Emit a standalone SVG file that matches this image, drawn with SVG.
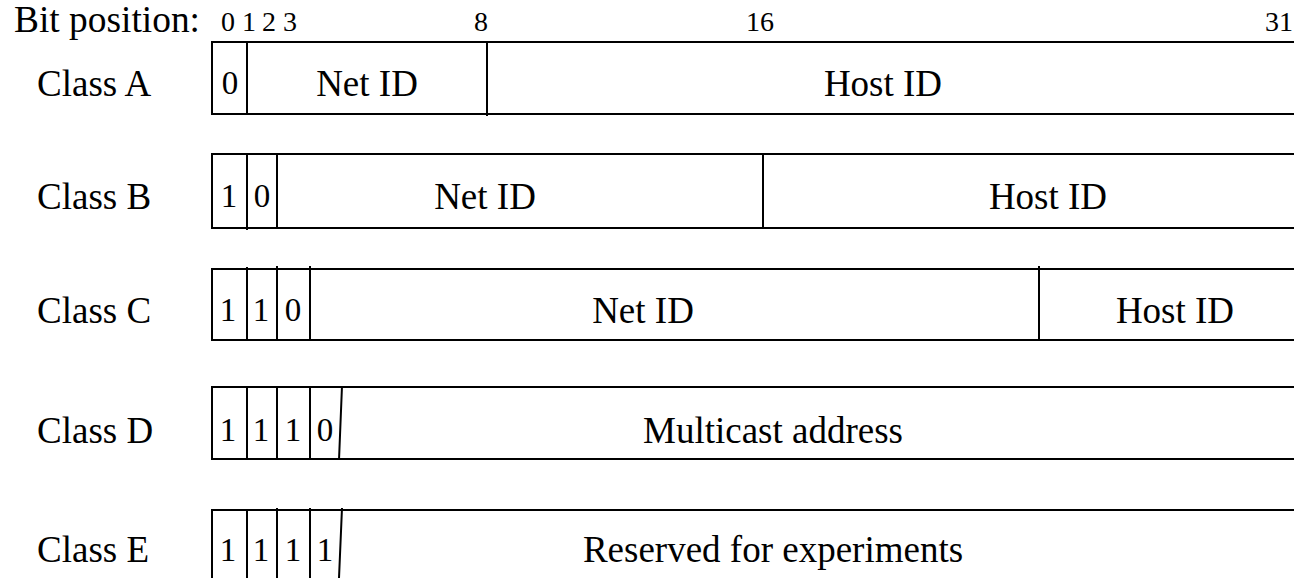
<svg xmlns="http://www.w3.org/2000/svg" width="1294" height="578" viewBox="0 0 1294 578">
<style>
  .t{font-family:"Liberation Serif","Times New Roman",serif;fill:#000}
  .lbl{font-size:37px}
  .big{font-size:37px;text-anchor:middle}
  .bit{font-size:33px;text-anchor:middle}
  .pos{font-size:28px;text-anchor:middle}
  .ln{stroke:#000;stroke-width:2;fill:none}
</style>
<rect width="1294" height="578" fill="#fff"/>
<g id="header">
  <text class="t lbl" x="14" y="32" textLength="186" lengthAdjust="spacingAndGlyphs">Bit position:</text>
  <text class="t pos" x="228" y="31">0</text>
  <text class="t pos" x="249" y="31">1</text>
  <text class="t pos" x="269" y="31">2</text>
  <text class="t pos" x="290" y="31">3</text>
  <text class="t pos" x="481" y="31">8</text>
  <text class="t pos" x="760" y="31">16</text>
  <text class="t pos" x="1279" y="31">31</text>
</g>
<g id="classA">
  <text class="t lbl" x="37" y="96">Class A</text>
  <path class="ln" d="M1294 42H212V114H1294M247 42V114M487 42V116"/>
  <text class="t bit" x="230" y="94">0</text>
  <text class="t big" x="367" y="96">Net ID</text>
  <text class="t big" x="883" y="96">Host ID</text>
</g>
<g id="classB">
  <text class="t lbl" x="37" y="209">Class B</text>
  <path class="ln" d="M1294 154H212V228H1294M247 154V230M277 154V228M763 154V228"/>
  <text class="t bit" x="229" y="207">1</text>
  <text class="t bit" x="262" y="207">0</text>
  <text class="t big" x="485" y="209">Net ID</text>
  <text class="t big" x="1048" y="209">Host ID</text>
</g>
<g id="classC">
  <text class="t lbl" x="37" y="323">Class C</text>
  <path class="ln" d="M1294 269H212V340H1294M247 267V340M277 266V340M310 266V340M1039 266V341"/>
  <text class="t bit" x="228" y="321">1</text>
  <text class="t bit" x="261" y="321">1</text>
  <text class="t bit" x="293" y="321">0</text>
  <text class="t big" x="643" y="323">Net ID</text>
  <text class="t big" x="1175" y="323">Host ID</text>
</g>
<g id="classD">
  <text class="t lbl" x="37" y="443">Class D</text>
  <path class="ln" d="M1294 387H212V459H1294M247 387V460M277 386V460M310 386V460M342 386L339 460"/>
  <text class="t bit" x="228" y="441">1</text>
  <text class="t bit" x="261" y="441">1</text>
  <text class="t bit" x="293" y="441">1</text>
  <text class="t bit" x="325" y="441">0</text>
  <text class="t big" x="773" y="443">Multicast address</text>
</g>
<g id="classE">
  <text class="t lbl" x="37" y="562">Class E</text>
  <path class="ln" d="M1294 510H212V578M247 510V578M277 508V578M310 508V578M342 508L339 578"/>
  <text class="t bit" x="228" y="561">1</text>
  <text class="t bit" x="261" y="561">1</text>
  <text class="t bit" x="293" y="561">1</text>
  <text class="t bit" x="325" y="561">1</text>
  <text class="t big" x="773" y="562">Reserved for experiments</text>
</g>
<g id="connectors"/>
</svg>
